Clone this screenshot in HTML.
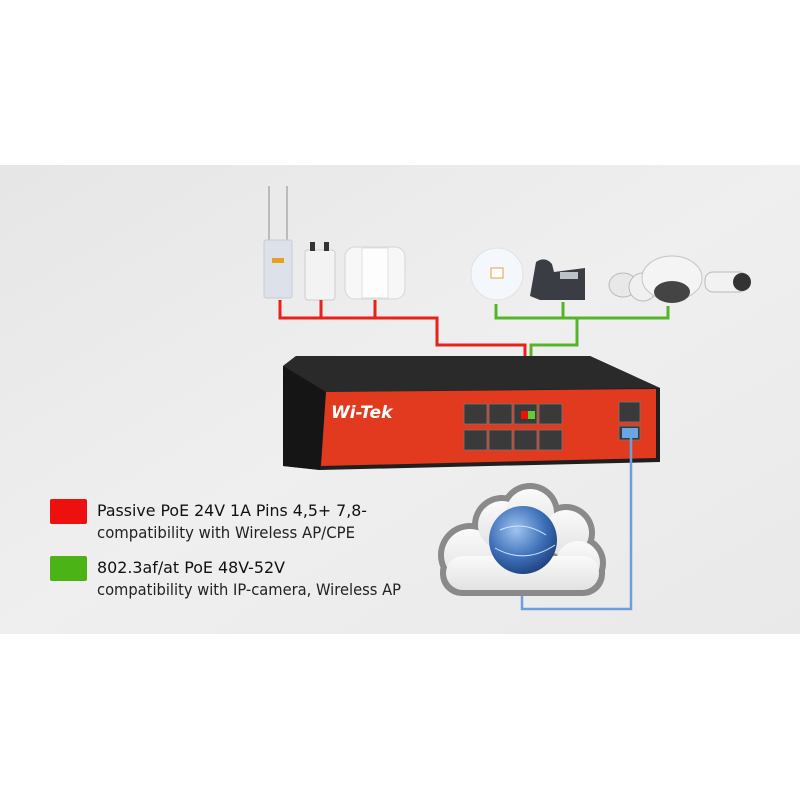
<!DOCTYPE html>
<html><head><meta charset="utf-8"><style>
html,body{margin:0;padding:0;background:#fff}
svg{display:block}
text{font-family:"DejaVu Sans","Liberation Sans",sans-serif}
</style></head><body>
<svg width="800" height="800" viewBox="0 0 800 800" xmlns="http://www.w3.org/2000/svg">
<defs>
<linearGradient id="bg" x1="0" y1="0" x2="1" y2="1">
<stop offset="0" stop-color="#e6e6e6"/><stop offset="0.5" stop-color="#efefef"/><stop offset="1" stop-color="#e9e9e9"/></linearGradient>
<radialGradient id="globe" cx="0.4" cy="0.35" r="0.7">
<stop offset="0" stop-color="#9fc4ee"/><stop offset="0.6" stop-color="#3d6fb8"/><stop offset="1" stop-color="#1d3f7a"/></radialGradient>
<linearGradient id="cl" x1="0" y1="0" x2="0" y2="1"><stop offset="0" stop-color="#fafafa"/><stop offset="1" stop-color="#e2e2e2"/></linearGradient>
</defs>
<rect x="0" y="165" width="800" height="469" fill="url(#bg)"/>

<!-- left devices -->
<rect x="268" y="186" width="2" height="60" fill="#bbb"/>
<rect x="286" y="186" width="2" height="60" fill="#bbb"/>
<rect x="264" y="240" width="28" height="58" rx="2" fill="#dde2ea" stroke="#c8ccd4"/>
<rect x="272" y="258" width="12" height="5" fill="#e8a020"/>
<rect x="305" y="250" width="30" height="50" rx="3" fill="#f3f3f3" stroke="#ccc"/>
<rect x="310" y="242" width="5" height="9" fill="#333"/><rect x="324" y="242" width="5" height="9" fill="#333"/>
<rect x="345" y="247" width="60" height="52" rx="10" fill="#f7f7f7" stroke="#d6d6d6"/>
<rect x="362" y="248" width="26" height="50" fill="#fdfdfd" stroke="#e0e0e0"/>

<!-- right devices -->
<circle cx="497" cy="274" r="26" fill="#f4f7fb" stroke="#dde3ea"/>
<rect x="491" y="268" width="12" height="10" fill="#fff" stroke="#e0a040" stroke-width="1"/>
<path d="M530 296 L536 262 Q545 256 552 264 L554 272 L585 268 L585 300 L540 300 Z" fill="#3a3d44"/>
<rect x="560" y="272" width="18" height="7" fill="#b9c3c8"/>
<ellipse cx="623" cy="285" rx="14" ry="12" fill="#e8e8e8" stroke="#bbb"/>
<ellipse cx="643" cy="287" rx="14" ry="14" fill="#f0f0f0" stroke="#bbb"/>
<ellipse cx="672" cy="278" rx="30" ry="22" fill="#f4f4f4" stroke="#c5c5c5"/>
<ellipse cx="672" cy="292" rx="18" ry="11" fill="#444"/>
<rect x="705" y="272" width="42" height="20" rx="8" fill="#f2f2f2" stroke="#bbb"/>
<circle cx="742" cy="282" r="9" fill="#333"/>

<!-- red lines -->
<g fill="none" stroke="#e8221b" stroke-width="3">
<path d="M280 300 V318 H437 V345 H525 V412"/>
<path d="M321 300 V318"/><path d="M375 300 V318"/>
</g>
<!-- green lines -->
<g fill="none" stroke="#55b52a" stroke-width="3">
<path d="M496 304 V318 H668 V306"/>
<path d="M563 302 V318"/>
<path d="M577 318 V345 H531 V412"/>
</g>

<!-- switch -->
<polygon points="283,366 296,356 590,356 660,388 660,462 320,470 283,466" fill="#1f1f1f"/>
<polygon points="283,366 296,356 590,356 660,388 326,392" fill="#2a2a2a"/>
<polygon points="283,366 326,392 320,470 283,466" fill="#151515"/>
<polygon points="326,392 656,389 656,458 321,466" fill="#e23a1e"/>
<text x="331" y="418" font-size="17" font-weight="bold" font-style="italic" fill="#fff">Wi-Tek</text>
<g fill="#3a3a3a" stroke="#777" stroke-width="0.8">
<rect x="464" y="404" width="23" height="20"/><rect x="489" y="404" width="23" height="20"/><rect x="514" y="404" width="23" height="20"/><rect x="539" y="404" width="23" height="20"/>
<rect x="464" y="430" width="23" height="20"/><rect x="489" y="430" width="23" height="20"/><rect x="514" y="430" width="23" height="20"/><rect x="539" y="430" width="23" height="20"/>
<rect x="619" y="402" width="21" height="20"/><rect x="619" y="426" width="21" height="14"/>
</g>
<rect x="521" y="411" width="7" height="8" fill="#f0100a"/>
<rect x="528" y="411" width="7" height="8" fill="#5cd030"/>
<rect x="622" y="428" width="16" height="10" fill="#6aa6e6"/>

<!-- blue line -->
<path d="M631 438 V609 H522 V592" fill="none" stroke="#6c9fdc" stroke-width="2.5"/>

<!-- cloud -->
<g fill="#8a8a8a">
<circle cx="470" cy="555" r="32"/><circle cx="502" cy="525" r="30"/><circle cx="530" cy="513" r="30"/><circle cx="566" cy="533" r="29"/><circle cx="578" cy="563" r="28"/>
<rect x="440" y="550" width="165" height="46" rx="22"/>
</g>
<g fill="url(#cl)">
<circle cx="470" cy="555" r="26"/><circle cx="502" cy="525" r="24"/><circle cx="530" cy="513" r="24"/><circle cx="566" cy="533" r="23"/><circle cx="578" cy="563" r="22"/>
<rect x="446" y="556" width="153" height="34" rx="17"/>
</g>
<circle cx="523" cy="540" r="34" fill="url(#globe)"/>
<path d="M500 530 Q523 520 546 535 M495 548 Q525 565 555 545" stroke="#cfe4ff" stroke-width="1" fill="none"/>

<!-- legend -->
<rect x="50" y="499" width="37" height="25" rx="2" fill="#ee0f0f"/>
<rect x="50" y="556" width="37" height="25" rx="2" fill="#4cb317"/>
<text x="97" y="516" font-size="16" fill="#111" textLength="270" lengthAdjust="spacingAndGlyphs">Passive PoE 24V 1A  Pins 4,5+ 7,8-</text>
<text x="97" y="538" font-size="16" fill="#222" textLength="258" lengthAdjust="spacingAndGlyphs">compatibility with Wireless AP/CPE</text>
<text x="97" y="573" font-size="16" fill="#111" textLength="188" lengthAdjust="spacingAndGlyphs">802.3af/at PoE 48V-52V</text>
<text x="97" y="595" font-size="16" fill="#222" textLength="304" lengthAdjust="spacingAndGlyphs">compatibility with IP-camera, Wireless AP</text>
</svg>
</body></html>
